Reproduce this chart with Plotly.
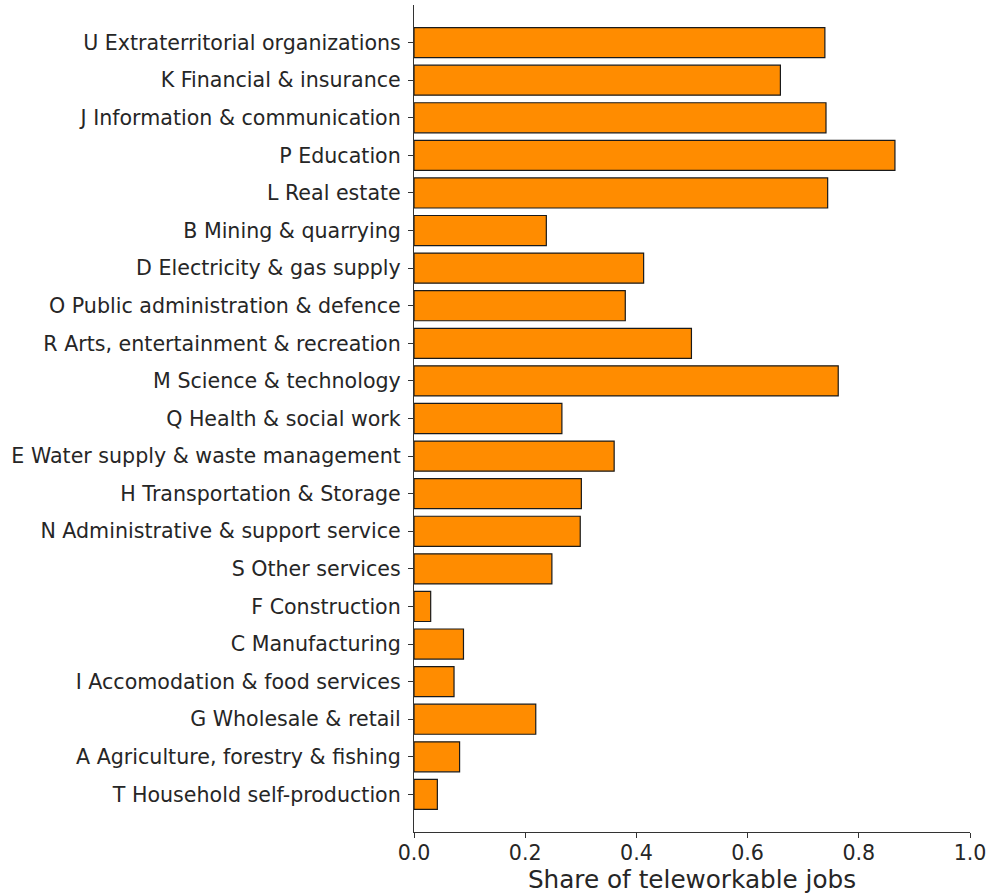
import plotly.graph_objects as go

# Top-to-bottom order as in the reference
sectors = [
    "U Extraterritorial organizations",
    "K Financial & insurance",
    "J Information & communication",
    "P Education",
    "L Real estate",
    "B Mining & quarrying",
    "D Electricity & gas supply",
    "O Public administration & defence",
    "R Arts, entertainment & recreation",
    "M Science & technology",
    "Q Health & social work",
    "E Water supply & waste management",
    "H Transportation & Storage",
    "N Administrative & support service",
    "S Other services",
    "F Construction",
    "C Manufacturing",
    "I Accomodation & food services",
    "G Wholesale & retail",
    "A Agriculture, forestry & fishing",
    "T Household self-production",
]
share = [
    0.739, 0.659, 0.741, 0.865, 0.744, 0.238, 0.413, 0.380, 0.499, 0.763,
    0.266, 0.360, 0.301, 0.299, 0.248, 0.030, 0.089, 0.072, 0.219, 0.082, 0.042,
]
x_ticks = [0.0, 0.2, 0.4, 0.6, 0.8, 1.0]
x_ticklabels = ["0.0", "0.2", "0.4", "0.6", "0.8", "1.0"]
x_title = "Share of teleworkable jobs"

# plot bottom-up
ys = sectors[::-1]
xs = share[::-1]

FONT = "DejaVu Sans"
TXT = "#262626"

fig = go.Figure(
    go.Bar(
        x=xs,
        y=ys,
        orientation="h",
        width=0.8,
        marker=dict(color="#FF8C00", line=dict(color="#1a1a1a", width=1.2)),
        hoverinfo="x+y",
    )
)

fig.update_layout(
    width=993,
    height=895,
    margin=dict(l=414, r=23, t=5, b=63, autoexpand=False),
    plot_bgcolor="white",
    paper_bgcolor="white",
    showlegend=False,
    font=dict(family=FONT, color=TXT, size=20.6),
)

fig.update_xaxes(
    range=[0, 1],
    tickvals=x_ticks,
    ticktext=x_ticklabels,
    ticks="outside",
    ticklen=5,
    tickwidth=1,
    tickcolor="#333333",
    showline=True,
    linecolor="#333333",
    linewidth=1.2,
    showgrid=False,
    zeroline=False,
    tickfont=dict(family=FONT, size=20.6, color=TXT),
    ticklabelstandoff=-3,
    title=dict(text=x_title, font=dict(family=FONT, size=24.7, color=TXT), standoff=6),
    automargin=False,
)

fig.update_yaxes(
    type="category",
    categoryorder="array",
    categoryarray=ys,
    range=[-1, len(ys)],
    ticks="outside",
    ticklen=5,
    tickwidth=1,
    tickcolor="#333333",
    showline=True,
    linecolor="#333333",
    linewidth=1.2,
    showgrid=False,
    zeroline=False,
    tickfont=dict(family=FONT, size=20.6, color=TXT),
    ticklabelstandoff=3,
    automargin=False,
)

fig.write_html(
    "out.html",
    config={"displayModeBar": False},
    post_script="document.body.style.margin='0';document.body.style.overflow='hidden';",
)
